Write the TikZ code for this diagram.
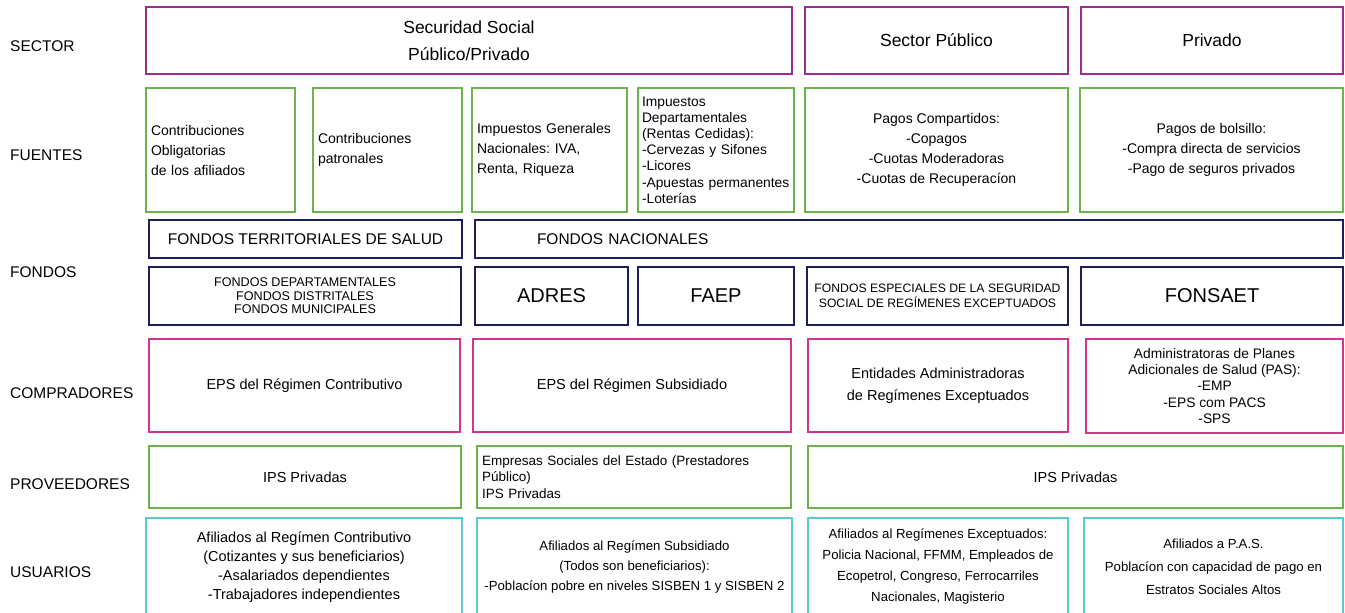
\documentclass[tikz,border=0pt]{standalone}
\usepackage{fontspec}
\setmainfont{Liberation Sans}
\frenchspacing
\definecolor{cSector}{HTML}{9C2C8F}
\definecolor{cGreen}{HTML}{6BB34A}
\definecolor{cNavy}{HTML}{1E1E5A}
\definecolor{cPink}{HTML}{D2358C}
\definecolor{cCyan}{HTML}{5CC9CC}
\newcommand\fs[2]{\fontsize{#1}{#2}\selectfont}
% \bx{name}{x1}{y1}{x2}{y2}{style}{text}
\newcommand\bx[7]{\node[#6, minimum width={#4-#2}, minimum height={#5-#3}] (#1) at ({(#2+#4)/2},{(#3+#5)/2}) {#7};}
\begin{document}
\begin{tikzpicture}[x=1pt,y=-1pt,
  box/.style={draw, line width=2.5pt, inner sep=0pt, align=center, fill=white},
  sectorbox/.style={box, draw=cSector},
  fuentebox/.style={box, draw=cGreen},
  fondobox/.style={box, draw=cNavy},
  compbox/.style={box, draw=cPink},
  provbox/.style={box, draw=cGreen},
  userbox/.style={box, draw=cCyan},
  rowlabel/.style={anchor=west, inner sep=0pt, font=\fs{15.5}{18}}
]
\useasboundingbox (0,0) rectangle (1345,613);
% row labels
\node[rowlabel] (lSector) at (10,46) {SECTOR};
\node[rowlabel] (lFuentes) at (10,155) {FUENTES};
\node[rowlabel] (lFondos) at (10,272) {FONDOS};
\node[rowlabel] (lComp) at (10,393) {COMPRADORES};
\node[rowlabel] (lProv) at (10,484) {PROVEEDORES};
\node[rowlabel] (lUsu) at (10,572) {USUARIOS};
% SECTOR
\bx{s1}{146}{7}{792}{74}{sectorbox, font=\fs{17.5}{27}}{Securidad Social\\Público/Privado}
\bx{s2}{805}{7}{1068}{74}{sectorbox, font=\fs{17.5}{27}}{Sector Público}
\bx{s3}{1081}{7}{1343}{74}{sectorbox, font=\fs{17.5}{27}}{Privado}
% FUENTES
\bx{f1}{146}{88}{295}{212}{fuentebox, align=left, text width=139, inner xsep=5pt, font=\fs{14}{20}}{Contribuciones\\Obligatorias\\de los afiliados}
\bx{f2}{313}{88}{462}{212}{fuentebox, align=left, text width=139, inner xsep=5pt, font=\fs{14}{20}}{Contribuciones\\patronales}
\bx{f3}{472}{88}{627}{212}{fuentebox, align=left, text width=145, inner xsep=5pt, font=\fs{14}{20}}{Impuestos Generales\\Nacionales: IVA,\\Renta, Riqueza}
\bx{f4}{638}{88}{794}{212}{fuentebox, align=left, text width=148, inner xsep=4pt, font=\fs{13.8}{16.2}}{Impuestos\\Departamentales\\(Rentas Cedidas):\\-Cervezas y Sifones\\-Licores\\-Apuestas permanentes\\-Loterías}
\bx{f5}{805}{88}{1068}{212}{fuentebox, font=\fs{14}{20}}{Pagos Compartidos:\\-Copagos\\-Cuotas Moderadoras\\-Cuotas de Recuperacíon}
\bx{f6}{1080}{88}{1343}{212}{fuentebox, font=\fs{14}{20}}{Pagos de bolsillo:\\-Compra directa de servicios\\-Pago de seguros privados}
% FONDOS
\bx{d1}{149}{220}{462}{258}{fondobox, font=\fs{15.5}{18}}{FONDOS TERRITORIALES DE SALUD}
\bx{d2}{475}{220}{1343}{258}{fondobox, align=left, text width=858, inner xsep=5pt, font=\fs{15.5}{18}}{\hspace*{57pt}FONDOS NACIONALES}
\bx{d3}{149}{267}{461}{325}{fondobox, font=\fs{12.6}{13.6}}{FONDOS DEPARTAMENTALES\\FONDOS DISTRITALES\\FONDOS MUNICIPALES}
\bx{d4}{475}{267}{628}{325}{fondobox, font=\fs{20}{24}}{ADRES}
\bx{d5}{638}{267}{794}{325}{fondobox, font=\fs{20}{24}}{FAEP}
\bx{d6}{807}{267}{1068}{325}{fondobox, font=\fs{12.2}{14.5}}{FONDOS ESPECIALES DE LA SEGURIDAD\\SOCIAL DE REGÍMENES EXCEPTUADOS}
\bx{d7}{1081}{267}{1343}{325}{fondobox, font=\fs{20}{24}}{FONSAET}
% COMPRADORES
\bx{c1}{149}{339}{460}{432}{compbox, font=\fs{14.5}{22}}{EPS del Régimen Contributivo}
\bx{c2}{473}{339}{791}{432}{compbox, font=\fs{14.5}{22}}{EPS del Régimen Subsidiado}
\bx{c3}{808}{339}{1068}{432}{compbox, font=\fs{14.5}{22}}{Entidades Administradoras\\de Regímenes Exceptuados}
\bx{c4}{1086}{339}{1343}{433}{compbox, font=\fs{13.8}{16.3}}{Administratoras de Planes\\Adicionales de Salud (PAS):\\-EMP\\-EPS com PACS\\-SPS}
% PROVEEDORES
\bx{p1}{149}{446}{461}{508}{provbox, font=\fs{14.5}{18}}{IPS Privadas}
\bx{p2}{477}{446}{791}{508}{provbox, align=left, text width=304, inner xsep=5pt, font=\fs{13.5}{16.5}}{Empresas Sociales del Estado (Prestadores\\Público)\\IPS Privadas}
\bx{p3}{808}{446}{1343}{508}{provbox, font=\fs{14.5}{18}}{IPS Privadas}
% USUARIOS
\bx{u1}{146}{518}{462}{616}{userbox, font=\fs{14.5}{19}}{Afiliados al Regímen Contributivo\\(Cotizantes y sus beneficiarios)\\-Asalariados dependientes\\-Trabajadores independientes}
\bx{u2}{477}{518}{792}{616}{userbox, font=\fs{13.2}{20}}{Afiliados al Regímen Subsidiado\\(Todos son beneficiarios):\\-Poblacíon pobre en niveles SISBEN 1 y SISBEN 2}
\bx{u3}{808}{518}{1068}{616}{userbox, font=\fs{13.2}{21}}{Afiliados al Regímenes Exceptuados:\\Policia Nacional, FFMM, Empleados de\\Ecopetrol, Congreso, Ferrocarriles\\Nacionales, Magisterio}
\bx{u4}{1084}{518}{1343}{616}{userbox, font=\fs{13.2}{23}}{Afiliados a P.A.S.\\Poblacíon con capacidad de pago en\\Estratos Sociales Altos}
\end{tikzpicture}
\end{document}
